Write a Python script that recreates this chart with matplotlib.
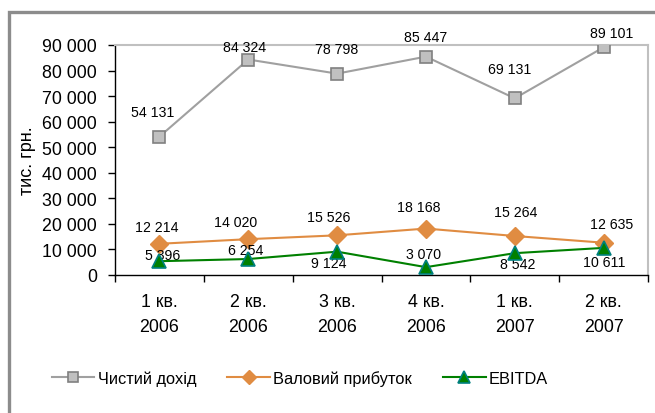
import matplotlib.pyplot as plt
from matplotlib.patches import Rectangle
from matplotlib.ticker import FuncFormatter

plt.rcParams['font.family'] = ['Liberation Sans', 'DejaVu Sans']

QUARTERS = ['1 кв.\n2006', '2 кв.\n2006', '3 кв.\n2006', '4 кв.\n2006', '1 кв.\n2007', '2 кв.\n2007']
NET_INCOME = [54131, 84324, 78798, 85447, 69131, 89101]
GROSS_PROFIT = [12214, 14020, 15526, 18168, 15264, 12635]
EBITDA = [5396, 6254, 9124, 3070, 8542, 10611]

# label offsets in pixels (dx, dy) relative to each point, as Excel placed them
NET_OFFSETS = [(-7, 25), (-4, 13), (0, 25), (0, 20), (-5, 29), (8, 14)]
GROSS_OFFSETS = [(-3, 17), (-13, 17), (-8, 18), (-7, 22), (1, 24), (8, 19)]
EBITDA_OFFSETS = [(3, 6), (-3, 9), (-8, -11), (-2, 13), (3, -11), (1, -14)]


def fmt_thousands(v, _pos=None):
    return f'{int(round(v)):,}'.replace(',', ' ')


def add_labels(ax, xs, values, offsets):
    for x, v, (dx, dy) in zip(xs, values, offsets):
        ax.annotate(fmt_thousands(v), (x, v), xytext=(dx * 0.72, dy * 0.72),
                    textcoords='offset points', ha='center', va='center',
                    fontsize=10.2, color='black')


fig = plt.figure(figsize=(6.55, 4.14), dpi=100)
fig.patch.set_facecolor('white')

# outer chart border (cut off on the right and bottom in the original)
fig.patches.append(Rectangle((8.5 / 655, -0.2), 1.2, 1.2 - 12.5 / 414,
                             transform=fig.transFigure, fill=False,
                             edgecolor='#8c8c8c', linewidth=2.4, clip_on=False))

ax = fig.add_axes([115 / 655, 1 - 276 / 414, 533 / 655, 230 / 414])
xs = list(range(len(QUARTERS)))

ax.plot(xs, NET_INCOME, color='#a0a0a0', lw=1.5, marker='s', ms=8.5,
        mfc='#c0c0c0', mec='#808080', mew=1.2, label='Чистий дохід', zorder=3)
ax.plot(xs, GROSS_PROFIT, color='#e08c42', lw=1.5, marker='D', ms=9,
        mfc='#e08c42', mec='#e08c42', label='Валовий прибуток', zorder=3)
ax.plot(xs, EBITDA, color='#008000', lw=1.5, marker='^', ms=10,
        mfc='#008000', mec='#008080', mew=1.2, label='EBITDA', zorder=4)

add_labels(ax, xs, NET_INCOME, NET_OFFSETS)
add_labels(ax, xs, GROSS_PROFIT, GROSS_OFFSETS)
add_labels(ax, xs, EBITDA, EBITDA_OFFSETS)

ax.set_xlim(-0.5, len(QUARTERS) - 0.5)
ax.set_ylim(0, 90000)
ax.set_yticks(range(0, 90001, 10000))
ax.yaxis.set_major_formatter(FuncFormatter(fmt_thousands))
ax.tick_params(axis='y', direction='out', length=5, width=1, pad=8, labelsize=12.8)

ax.set_xticks([i - 0.5 for i in range(len(QUARTERS) + 1)])
ax.set_xticklabels([])
ax.set_xticks(xs, minor=True)
ax.set_xticklabels(QUARTERS, minor=True, fontsize=12.8, linespacing=1.6)
ax.tick_params(axis='x', which='major', direction='out', length=5, width=1)
ax.tick_params(axis='x', which='minor', length=0, pad=13)

for side in ('top', 'right'):
    ax.spines[side].set_color('#c0c0c0')
    ax.spines[side].set_linewidth(1.5)
for side in ('left', 'bottom'):
    ax.spines[side].set_color('black')
    ax.spines[side].set_linewidth(1)

fig.text(27 / 655, 1 - 161 / 414, 'тис. грн.', rotation=90, ha='center',
         va='center', fontsize=13)

fig.legend(loc='center', bbox_to_anchor=(300 / 655, 1 - 379 / 414), ncol=3,
           frameon=False, fontsize=11.8, handlelength=2.6, handletextpad=0.2,
           columnspacing=1.9, markerscale=0.8)

fig.savefig('out.png', dpi=100)
